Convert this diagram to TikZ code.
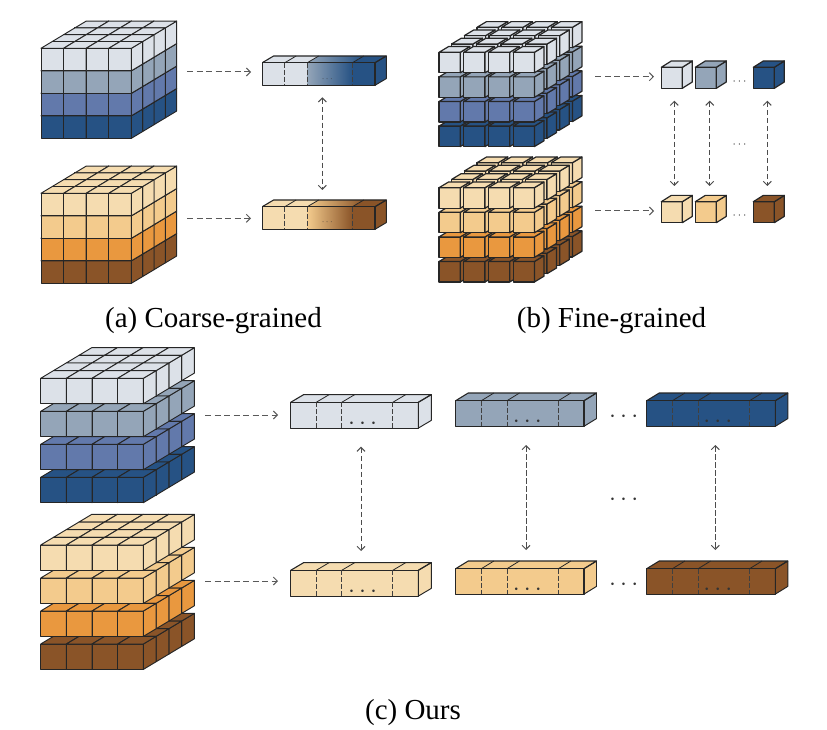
\documentclass[tikz,border=0pt]{standalone}
\usepackage{fontspec}
\setmainfont{Liberation Serif}
\usepackage{amsmath}
\usetikzlibrary{arrows.meta}
\definecolor{blueA}{HTML}{DCE1E8}
\definecolor{blueB}{HTML}{94A5B8}
\definecolor{blueC}{HTML}{6279AB}
\definecolor{blueD}{HTML}{265284}
\definecolor{tanA}{HTML}{F5DCB0}
\definecolor{tanB}{HTML}{F3CB8D}
\definecolor{tanC}{HTML}{E9983F}
\definecolor{tanD}{HTML}{8A5428}
\tikzset{
	cell/.style={draw=black!85, line width=0.95pt, line join=round},
	flow/.style={draw=black!65, line width=1pt, dash pattern=on 6pt off 3.5pt, -{Straight Barb[length=4pt, width=8pt]}},
	biflow/.style={draw=black!70, line width=1pt, dash pattern=on 5.5pt off 2.5pt, {Straight Barb[length=4pt, width=8pt]}-{Straight Barb[length=4pt, width=8pt]}},
	split/.style={draw=black!75, line width=0.9pt, dash pattern=on 5pt off 2pt},
	caption/.style={anchor=base, inner sep=0pt, font=\fontsize{29}{31}\selectfont},
	gap/.style={inner sep=0pt, text=black!80}
}
% one small block: #1 x, #2 y of the front top left corner, #3 colour
\newcommand{\cubelet}[3]{
	\filldraw[cell, fill=#3] (#1,#2) rectangle ++(\cw,\ch);
	\filldraw[cell, fill=#3] (#1+\cw,#2) -- ++(\cdx,-\cdy) -- ++(0,\ch) -- ++(-\cdx,\cdy) -- cycle;
	\filldraw[cell, fill=#3] (#1,#2) -- ++(\cdx,-\cdy) -- ++(\cw,0) -- ++(-\cdx,\cdy) -- cycle;
}
% block size and pitch
\newcommand{\setgrid}[8]{
	\def\cw{#1}\def\ch{#2}\def\cdx{#3}\def\cdy{#4}
	\def\px{#5}\def\py{#6}\def\qx{#7}\def\qy{#8}
}
% 4 x 4 x 4 stack: #1 x, #2 y, #3 list layer/colour, lowest first
\newcommand{\cubegrid}[3]{
	\foreach \lay/\col in {#3}{
		\foreach \dep in {3,2,1,0}{
			\foreach \cc in {0,1,2,3}{
				\pgfmathsetmacro{\xx}{#1+\cc*\px+\dep*\qx}
				\pgfmathsetmacro{\yy}{#2+\lay*\py-\dep*\qy}
				\cubelet{\xx}{\yy}{\col}
			}
		}
	}
}
% long bar: #1 x, #2 y, #3 w, #4 h, #5 dx, #6 dy, #7 left, #8 and #9 the shaded part
\newcommand{\flatbar}[9]{
	\fill[#7] (#1,#2) rectangle ++(0.4*#3,#4);
	\shade[left color=#8, right color=#9] (#1+0.4*#3,#2) rectangle ++(0.4*#3,#4);
	\fill[#9] (#1+0.8*#3,#2) rectangle ++(0.2*#3,#4);
	\fill[#7] (#1,#2) -- ++(#5,-#6) -- ++(0.4*#3,0) -- ++(-#5,#6) -- cycle;
	\shade[left color=#8, right color=#9] (#1+0.4*#3,#2) -- ++(#5,-#6) -- ++(0.4*#3,0) -- ++(-#5,#6) -- cycle;
	\fill[#9] (#1+0.8*#3,#2) -- ++(#5,-#6) -- ++(0.2*#3,0) -- ++(-#5,#6) -- cycle;
	\filldraw[cell, fill=#9] (#1+#3,#2) -- ++(#5,-#6) -- ++(0,#4) -- ++(-#5,#6) -- cycle;
	\draw[cell, line width=1.1pt] (#1,#2) rectangle ++(#3,#4);
	\draw[cell, line width=1.1pt] (#1,#2) -- ++(#5,-#6) -- ++(#3,0) -- ++(-#5,#6);
	\foreach \f in {0.2,0.4,0.8}{
		\draw[split] (#1+\f*#3,#2) -- ++(0,#4);
		\draw[cell, line width=0.8pt] (#1+\f*#3,#2) -- ++(#5,-#6);
	}
}

\begin{document}
\begin{tikzpicture}[x=1pt, y=-1pt]
	\useasboundingbox (0,0) rectangle (827,730);

	% (a)
	\setgrid{22.6}{22.5}{11.3}{6.8}{22.6}{22.5}{11.3}{6.8}
	\cubegrid{41}{48.3}{3/blueD,2/blueC,1/blueB,0/blueA}
	\cubegrid{41}{193.3}{3/tanD,2/tanC,1/tanB,0/tanA}
	\flatbar{262.3}{62.7}{112.7}{22.6}{11.3}{6.7}{blueA}{blueB}{blueD}
	\flatbar{262.3}{206.7}{112.7}{22.6}{11.3}{6.7}{tanA}{tanB}{tanD}

	% (b)
	\begin{scope}[cell/.append style={line width=1.2pt}]
		\setgrid{21.3}{20.5}{9.5}{5.7}{24.7}{24.6}{12.67}{8.33}
		\cubegrid{439}{52.3}{3/blueD,2/blueC,1/blueB,0/blueA}
		\cubegrid{439}{187.7}{3/tanD,2/tanC,1/tanB,0/tanA}
		\setgrid{21}{21}{10}{6.3}{0}{0}{0}{0}
		\foreach \x/\colup/\coldn in {661.3/blueA/tanA, 695.3/blueB/tanB, 753.3/blueD/tanD}{
			\cubelet{\x}{67.3}{\colup}
			\cubelet{\x}{201.7}{\coldn}
		}
	\end{scope}

	% (c)
	\setgrid{25.67}{25.4}{12.75}{7.65}{25.67}{33}{12.75}{7.65}
	\cubegrid{40.7}{378.3}{3/blueD,2/blueC,1/blueB,0/blueA}
	\cubegrid{40.7}{545}{3/tanD,2/tanC,1/tanB,0/tanA}
	\flatbar{290.7}{402.3}{127.6}{25.8}{13}{7.7}{blueA}{blueA}{blueA}
	\flatbar{455.7}{400.7}{128.3}{25.6}{12.5}{7.7}{blueB}{blueB}{blueB}
	\flatbar{646.7}{400.7}{128.6}{25.6}{12.5}{7.7}{blueD}{blueD}{blueD}
	\flatbar{290.7}{570.3}{127.6}{25.8}{13}{7.7}{tanA}{tanA}{tanA}
	\flatbar{455.7}{568.7}{128.3}{25.4}{12.5}{7.7}{tanB}{tanB}{tanB}
	\flatbar{646.7}{568.7}{128.6}{25.4}{12.5}{7.7}{tanD}{tanD}{tanD}

	% horizontal connectors
	\foreach \n/\xa/\xb/\y in {a/187/251/72, b/187/251/218.3, c/595.3/654/76.7, d/595.3/654/211, e/205/278/415, f/205/278/581}{
		\coordinate (from\n) at (\xa,\y);
		\coordinate (to\n) at (\xb,\y);
		\draw[flow] (from\n) -- (to\n);
	}
	% vertical connectors
	\foreach \n/\x/\ya/\yb in {a/322.3/97.3/190, b/674.3/100.7/186, c/709.7/100.7/186, d/767.3/100.7/186, e/361/446.7/551, f/526/445/550, g/715.3/445/550}{
		\coordinate (top\n) at (\x,\ya);
		\coordinate (bot\n) at (\x,\yb);
		\draw[biflow] (top\n) -- (bot\n);
	}

	% dots
	\foreach \n/\x/\y/\s in {a/328/78/9, b/328/221/9, c/740.5/80/12, d/740.5/143/12, e/740.5/214/12,
		f/364.7/421.3/24, g/529.5/419.3/24, h/720/419.3/24, i/364.7/588.8/24, j/529.5/587.3/24, k/720/587.3/24,
		l/625.8/414.3/24, m/625.8/497.3/24, n/625.8/582.3/24}{
		\node[gap, font=\fontsize{\s}{\s}\selectfont] (dots\n) at (\x,\y+0.125*\s) {$\cdots$};
	}

	% captions
	\node[caption] (capa) at (213.5,327) {(a) Coarse-grained};
	\node[caption] (capb) at (611.5,327) {(b) Fine-grained};
	\node[caption] (capc) at (413,719) {(c) Ours};
\end{tikzpicture}
\end{document}
